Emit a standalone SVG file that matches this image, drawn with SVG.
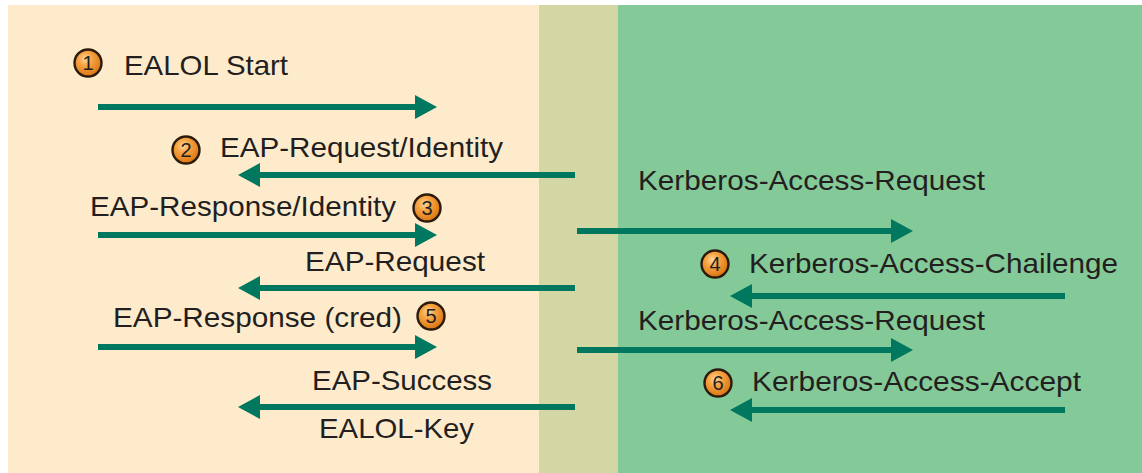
<svg xmlns="http://www.w3.org/2000/svg" width="1142" height="473" viewBox="0 0 1142 473">
<defs>
<radialGradient id="og" cx="0.4" cy="0.35" r="0.7">
<stop offset="0" stop-color="#FDD9A0"/>
<stop offset="0.35" stop-color="#F6A443"/>
<stop offset="1" stop-color="#D9700E"/>
</radialGradient>
<marker id="ah" markerUnits="userSpaceOnUse" markerWidth="24" markerHeight="26" viewBox="0 -13 24 26" refX="0" refY="0" orient="auto">
<path d="M0,-12 L22,0 L0,12 z" fill="#00775F"/>
</marker>
<style>
.t{font-family:"Liberation Sans",Arial,sans-serif;font-size:28px;fill:#231F20}
.n{font-family:"Liberation Sans",Arial,sans-serif;font-size:20px;fill:#231F20;text-anchor:middle}
.c{fill:url(#og);stroke:#2B1B0C;stroke-width:2.4}
.a{stroke:#00775F;stroke-width:6;fill:none;marker-end:url(#ah)}
</style>
</defs>
<g id="background">
<rect x="8" y="5" width="531" height="468" fill="#FEEBCC"/>
<rect x="539" y="5" width="79" height="468" fill="#D3D7A4"/>
<rect x="618" y="5" width="524" height="468" fill="#84CA98"/>
</g>
<g id="connectors">
<path class="a" d="M98,107 H415"/>
<path class="a" d="M575,175 H260"/>
<path class="a" d="M98,235 H415"/>
<path class="a" d="M575,288 H260"/>
<path class="a" d="M98,347 H415"/>
<path class="a" d="M575,407 H260"/>
<path class="a" d="M577,231 H891"/>
<path class="a" d="M1065,296 H752"/>
<path class="a" d="M577,350 H891"/>
<path class="a" d="M1065,410 H752"/>
</g>
<g id="step1"><circle class="c" cx="88" cy="63" r="13.5"/><text class="n" x="88" y="70">1</text><text class="t" x="124" y="75" textLength="164" lengthAdjust="spacingAndGlyphs">EALOL Start</text></g>
<g id="step2"><circle class="c" cx="186" cy="150" r="13.5"/><text class="n" x="186" y="157">2</text><text class="t" x="220" y="157" textLength="283" lengthAdjust="spacingAndGlyphs">EAP-Request/Identity</text></g>
<g id="step3"><text class="t" x="90" y="216" textLength="306" lengthAdjust="spacingAndGlyphs">EAP-Response/Identity</text><circle class="c" cx="427" cy="208" r="13.5"/><text class="n" x="427" y="215">3</text></g>
<g id="eap-request"><text class="t" x="305" y="271" textLength="180" lengthAdjust="spacingAndGlyphs">EAP-Request</text></g>
<g id="step5"><text class="t" x="113" y="327" textLength="289" lengthAdjust="spacingAndGlyphs">EAP-Response (cred)</text><circle class="c" cx="431" cy="316" r="13.5"/><text class="n" x="431" y="323">5</text></g>
<g id="eap-success"><text class="t" x="312" y="390" textLength="180" lengthAdjust="spacingAndGlyphs">EAP-Success</text></g>
<g id="ealol-key"><text class="t" x="319" y="438" textLength="155" lengthAdjust="spacingAndGlyphs">EALOL-Key</text></g>
<g id="kerb-req1"><text class="t" x="638" y="190" textLength="347" lengthAdjust="spacingAndGlyphs">Kerberos-Access-Request</text></g>
<g id="step4"><circle class="c" cx="715" cy="264" r="13.5"/><text class="n" x="715" y="271">4</text><text class="t" x="749" y="273" textLength="369" lengthAdjust="spacingAndGlyphs">Kerberos-Access-Chailenge</text></g>
<g id="kerb-req2"><text class="t" x="638" y="330" textLength="347" lengthAdjust="spacingAndGlyphs">Kerberos-Access-Request</text></g>
<g id="step6"><circle class="c" cx="718" cy="383" r="13.5"/><text class="n" x="718" y="390">6</text><text class="t" x="752" y="391" textLength="329" lengthAdjust="spacingAndGlyphs">Kerberos-Access-Accept</text></g>
</svg>
